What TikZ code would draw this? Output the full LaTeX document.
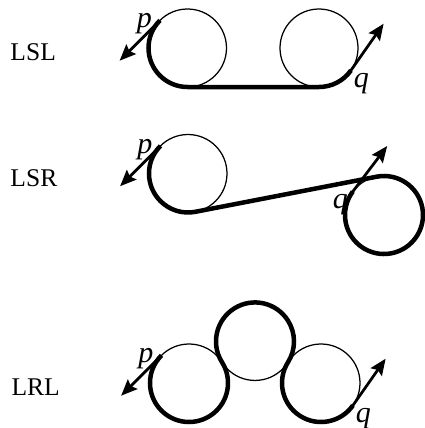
\documentclass[tikz,border=0pt]{standalone}
\usepackage{fontspec}
\setmainfont{Liberation Serif}
\usepackage{tikz}
\usetikzlibrary{positioning,calc,arrows.meta}

\begin{document}
\begin{tikzpicture}[x=0.4pt,y=0.4pt,
  every node/.style={font=\fontsize{10.2}{12}\selectfont},
  wheel/.style={circle,draw,line width=0.5pt,minimum size=31.2pt,inner sep=0pt,outer sep=0pt},
  route/.style={line width=1.8pt},
  arrow/.style={-{Stealth[length=6.5pt,width=5.4pt,inset=1pt]},line width=1.1pt},
  tag/.style={anchor=west,inner sep=0pt},
  ptlabel/.style={font=\fontsize{12}{14}\selectfont\itshape,inner sep=0pt}]
\useasboundingbox (0,0) rectangle (425,-428);

% LSL
\node[tag] (lsl) at (10,-52.5) {LSL};
\node[wheel] (a1) at (187.5,-48) {};
\node[wheel,right=21.4pt of a1] (a2) {};
\coordinate (pa) at (a1.135);
\draw[route] (pa) arc[start angle=135,end angle=270,radius=39]
  -- (a2.south) arc[start angle=270,end angle=325,radius=39] coordinate (qa);

% LSR (inner tangent)
\node[tag] (lsr) at (10,-178.5) {LSR};
\node[wheel] (b1) at (188,-173.5) {};
\node[wheel] (b2) at ($(b1)+(196,-41.5)$) {};
\coordinate (pb) at (b1.135);
\draw[route] (pb) arc[start angle=135,end angle=280.95,radius=39]
  -- ($(b2)+(100.95:39)$) arc[start angle=100.95,end angle=-217,radius=39] coordinate (qb);

% LRL
\node[tag] (lrl) at (11,-387.5) {LRL};
\node[wheel] (c1) at (189,-383) {};
\node[wheel] (c2) at ($(c1)+(32.2:78)$) {};
\node[wheel] (c3) at ($(c2)+(-32.2:78)$) {};
\coordinate (pc) at (c1.135);
\draw[route] (pc) arc[start angle=135,end angle=392.2,radius=39]
  arc[start angle=212.2,end angle=-32.2,radius=39]
  arc[start angle=147.8,end angle=325,radius=39] coordinate (qc);

% start and end directions
\foreach \s/\d in {pa/225,pb/225,pc/225,qa/55,qb/53,qc/55}{
  \coordinate (\s2) at ($(\s)+(\d:57)$);
  \draw[arrow] (\s) -- (\s2);
}
\foreach \s in {pa,pb,pc}
  \node[ptlabel,left=3pt of \s,yshift=-1.4pt] (\s l) {p};
\node[ptlabel,below right=1pt and 1pt of qa] (qal) {q};
\node[ptlabel,below left=1pt and 1.8pt of qb] (qbl) {q};
\node[ptlabel,below right=1pt and 1pt of qc] (qcl) {q};
\end{tikzpicture}
\end{document}
